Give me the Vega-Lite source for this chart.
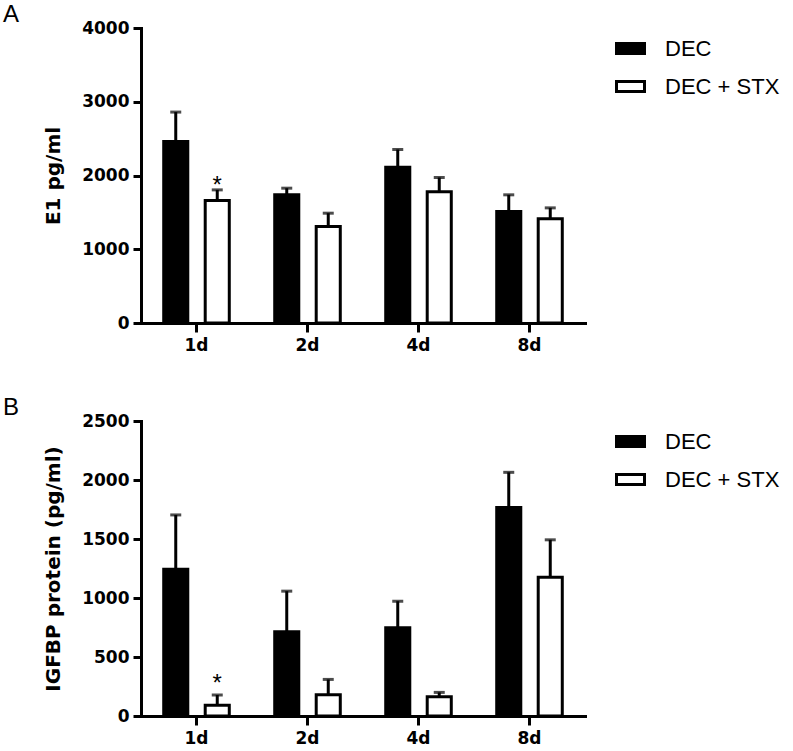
{
  "$schema": "https://vega.github.io/schema/vega-lite/v6.json",
  "padding": {"left": 3, "top": 3, "right": 0, "bottom": 0},
  "background": "white",
  "config": {
    "view": {"stroke": null},
    "font": "Liberation Sans",
    "axis": {
      "domainColor": "black", "domainWidth": 3, "domainCap": "square",
      "tickColor": "black", "tickWidth": 3,
      "labelFont": "DejaVu Sans", "labelFontWeight": "bold", "labelFontSize": 17, "labelColor": "black",
      "titleFont": "DejaVu Sans", "titleFontWeight": "bold", "titleFontSize": 20, "titleColor": "black",
      "grid": false
    },
    "legend": {
      "title": null,
      "orient": "right",
      "symbolType": "M-1,-0.35H1V0.35H-1Z",
      "symbolSize": 784,
      "symbolStrokeColor": "black",
      "symbolStrokeWidth": 3,
      "labelFont": "Liberation Sans",
      "labelFontSize": 22,
      "labelColor": "black",
      "labelOffset": 19,
      "rowPadding": 11,
      "padding": 5,
      "offset": 25
    }
  },
  "datasets": {
    "A": [
      {"day": "1d", "group": "DEC", "mean": 2460, "upper": 2860, "sig": ""},
      {"day": "1d", "group": "DEC + STX", "mean": 1660, "upper": 1805, "sig": "*"},
      {"day": "2d", "group": "DEC", "mean": 1738, "upper": 1828, "sig": ""},
      {"day": "2d", "group": "DEC + STX", "mean": 1310, "upper": 1489, "sig": ""},
      {"day": "4d", "group": "DEC", "mean": 2113, "upper": 2353, "sig": ""},
      {"day": "4d", "group": "DEC + STX", "mean": 1780, "upper": 1973, "sig": ""},
      {"day": "8d", "group": "DEC", "mean": 1511, "upper": 1738, "sig": ""},
      {"day": "8d", "group": "DEC + STX", "mean": 1415, "upper": 1561, "sig": ""}
    ],
    "B": [
      {"day": "1d", "group": "DEC", "mean": 1244, "upper": 1704, "sig": ""},
      {"day": "1d", "group": "DEC + STX", "mean": 92, "upper": 178, "sig": "*"},
      {"day": "2d", "group": "DEC", "mean": 714, "upper": 1058, "sig": ""},
      {"day": "2d", "group": "DEC + STX", "mean": 180, "upper": 310, "sig": ""},
      {"day": "4d", "group": "DEC", "mean": 748, "upper": 973, "sig": ""},
      {"day": "4d", "group": "DEC + STX", "mean": 163, "upper": 200, "sig": ""},
      {"day": "8d", "group": "DEC", "mean": 1766, "upper": 2065, "sig": ""},
      {"day": "8d", "group": "DEC + STX", "mean": 1175, "upper": 1493, "sig": ""}
    ]
  },
  "bounds": "flush",
  "spacing": 98,
  "resolve": {"scale": {"fill": "independent"}, "legend": {"fill": "independent"}},
  "vconcat": [
    {
      "title": {"text": "A", "anchor": "start", "frame": "group", "dx": -138, "offset": -8, "fontSize": 24, "fontWeight": "normal", "font": "Liberation Sans", "color": "black"},
      "width": 444,
      "height": 295,
      "data": {"name": "A"},
      "encoding": {
        "x": {"field": "day", "type": "nominal", "sort": ["1d", "2d", "4d", "8d"], "scale": {"paddingInner": 0, "paddingOuter": 0}, "axis": {"title": null, "labelAngle": 0, "tickSize": 9, "labelPadding": 5}},
        "xOffset": {"field": "group", "type": "nominal", "sort": ["DEC", "DEC + STX"], "scale": {"paddingInner": 0.42, "paddingOuter": 0.5474}}
      },
      "layer": [
        {
          "mark": {"type": "bar", "stroke": "black", "strokeWidth": 3},
          "encoding": {
            "y": {"field": "mean", "type": "quantitative", "scale": {"domain": [0, 4000], "nice": false}, "axis": {"title": "E1 pg/ml", "format": "d", "values": [0, 1000, 2000, 3000, 4000], "tickSize": 8, "labelPadding": 4, "titlePadding": 18}},
            "fill": {"field": "group", "type": "nominal", "scale": {"domain": ["DEC", "DEC + STX"], "range": ["black", "white"]}}
          }
        },
        {
          "mark": {"type": "rule", "strokeWidth": 3, "color": "black"},
          "encoding": {"y": {"field": "mean", "type": "quantitative"}, "y2": {"field": "upper"}}
        },
        {
          "mark": {"type": "tick", "thickness": 3, "size": 11, "color": "black", "orient": "horizontal"},
          "encoding": {"y": {"field": "upper", "type": "quantitative"}}
        },
        {
          "transform": [{"filter": "datum.sig != ''"}],
          "mark": {"type": "text", "fontSize": 24, "baseline": "alphabetic", "dy": 3, "font": "Liberation Sans", "color": "black"},
          "encoding": {"y": {"field": "upper", "type": "quantitative"}, "text": {"field": "sig"}}
        }
      ]
    },
    {
      "title": {"text": "B", "anchor": "start", "frame": "group", "dx": -138, "offset": -8, "fontSize": 24, "fontWeight": "normal", "font": "Liberation Sans", "color": "black"},
      "width": 444,
      "height": 295,
      "data": {"name": "B"},
      "encoding": {
        "x": {"field": "day", "type": "nominal", "sort": ["1d", "2d", "4d", "8d"], "scale": {"paddingInner": 0, "paddingOuter": 0}, "axis": {"title": null, "labelAngle": 0, "tickSize": 9, "labelPadding": 5}},
        "xOffset": {"field": "group", "type": "nominal", "sort": ["DEC", "DEC + STX"], "scale": {"paddingInner": 0.42, "paddingOuter": 0.5474}}
      },
      "layer": [
        {
          "mark": {"type": "bar", "stroke": "black", "strokeWidth": 3},
          "encoding": {
            "y": {"field": "mean", "type": "quantitative", "scale": {"domain": [0, 2500], "nice": false}, "axis": {"title": "IGFBP protein (pg/ml)", "format": "d", "values": [0, 500, 1000, 1500, 2000, 2500], "tickSize": 8, "labelPadding": 4, "titlePadding": 18}},
            "fill": {"field": "group", "type": "nominal", "scale": {"domain": ["DEC", "DEC + STX"], "range": ["black", "white"]}}
          }
        },
        {
          "mark": {"type": "rule", "strokeWidth": 3, "color": "black"},
          "encoding": {"y": {"field": "mean", "type": "quantitative"}, "y2": {"field": "upper"}}
        },
        {
          "mark": {"type": "tick", "thickness": 3, "size": 11, "color": "black", "orient": "horizontal"},
          "encoding": {"y": {"field": "upper", "type": "quantitative"}}
        },
        {
          "transform": [{"filter": "datum.sig != ''"}],
          "mark": {"type": "text", "fontSize": 24, "baseline": "alphabetic", "dy": -4, "font": "Liberation Sans", "color": "black"},
          "encoding": {"y": {"field": "upper", "type": "quantitative"}, "text": {"field": "sig"}}
        }
      ]
    }
  ]
}
